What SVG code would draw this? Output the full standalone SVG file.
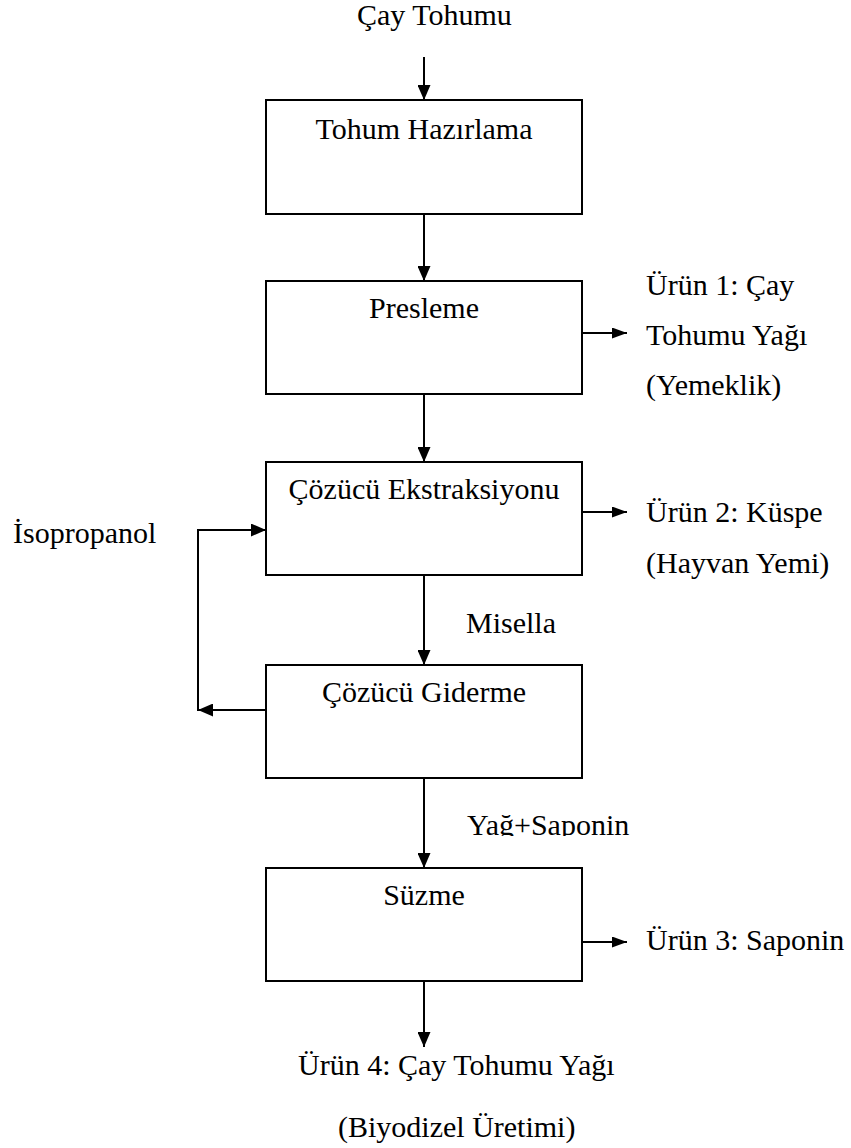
<svg xmlns="http://www.w3.org/2000/svg" width="851" height="1148" viewBox="0 0 851 1148">
<style>
text{font-family:"Liberation Serif","Times New Roman",serif;font-size:30px;fill:#000}
.box{fill:#fff;stroke:#000;stroke-width:2}
.c{fill:none;stroke:#000;stroke-width:2}
.m{text-anchor:middle}
</style>
<defs>
<marker id="ah" viewBox="0 0 15 13" refX="15" refY="6.5" markerWidth="15" markerHeight="13" markerUnits="userSpaceOnUse" orient="auto">
<path d="M0,0 L15,6.5 L0,13 Z" fill="#000"/>
</marker>
<marker id="ahs" viewBox="0 0 15 11" refX="15" refY="5.5" markerWidth="15" markerHeight="11" markerUnits="userSpaceOnUse" orient="auto">
<path d="M0,0 L15,5.5 L0,11 Z" fill="#000"/>
</marker>
<clipPath id="clipY"><rect x="0" y="0" width="851" height="836"/></clipPath>
</defs>
<rect width="851" height="1148" fill="#fff"/>
<g id="connectors">
<line class="c" x1="424" y1="57" x2="424" y2="100" marker-end="url(#ah)"/>
<line class="c" x1="424" y1="214" x2="424" y2="281" marker-end="url(#ah)"/>
<line class="c" x1="424" y1="394" x2="424" y2="462" marker-end="url(#ah)"/>
<line class="c" x1="424" y1="575" x2="424" y2="665" marker-end="url(#ah)"/>
<line class="c" x1="424" y1="778" x2="424" y2="868" marker-end="url(#ah)"/>
<line class="c" x1="424" y1="981" x2="424" y2="1047" marker-end="url(#ah)"/>
<line class="c" x1="582" y1="333" x2="627" y2="333" marker-end="url(#ahs)"/>
<line class="c" x1="582" y1="512" x2="627" y2="512" marker-end="url(#ahs)"/>
<line class="c" x1="582" y1="942" x2="627" y2="942" marker-end="url(#ahs)"/>
<line class="c" x1="266" y1="710" x2="198" y2="710" marker-end="url(#ah)"/>
<polyline class="c" points="198,711 198,530 266,530" marker-end="url(#ah)"/>
</g>
<g id="input"><text x="357" y="25">Çay Tohumu</text></g>
<g id="n1"><rect class="box" x="266" y="100" width="316" height="114"/><text class="m" x="424" y="139">Tohum Hazırlama</text></g>
<g id="n2"><rect class="box" x="266" y="281" width="316" height="113"/><text class="m" x="424" y="318">Presleme</text></g>
<g id="n3"><rect class="box" x="266" y="462" width="316" height="113"/><text class="m" x="424" y="499">Çözücü Ekstraksiyonu</text></g>
<g id="n4"><rect class="box" x="266" y="665" width="316" height="113"/><text class="m" x="424" y="702">Çözücü Giderme</text></g>
<g id="n5"><rect class="box" x="266" y="868" width="316" height="113"/><text class="m" x="424" y="905">Süzme</text></g>
<g id="p1"><text x="646" y="295">Ürün 1: Çay</text><text x="646" y="345">Tohumu Yağı</text><text x="646" y="395">(Yemeklik)</text></g>
<g id="p2"><text x="646" y="522">Ürün 2: Küspe</text><text x="646" y="573">(Hayvan Yemi)</text></g>
<g id="p3"><text x="646" y="950">Ürün 3: Saponin</text></g>
<g id="p4"><text x="298" y="1075">Ürün 4: Çay Tohumu Yağı</text><text x="338" y="1137">(Biyodizel Üretimi)</text></g>
<g id="isopropanol"><text x="13" y="543">İsopropanol</text></g>
<g id="misella"><text x="466" y="633">Misella</text></g>
<g id="yag-saponin" clip-path="url(#clipY)"><text x="467" y="835">Yağ+Saponin</text></g>
</svg>
